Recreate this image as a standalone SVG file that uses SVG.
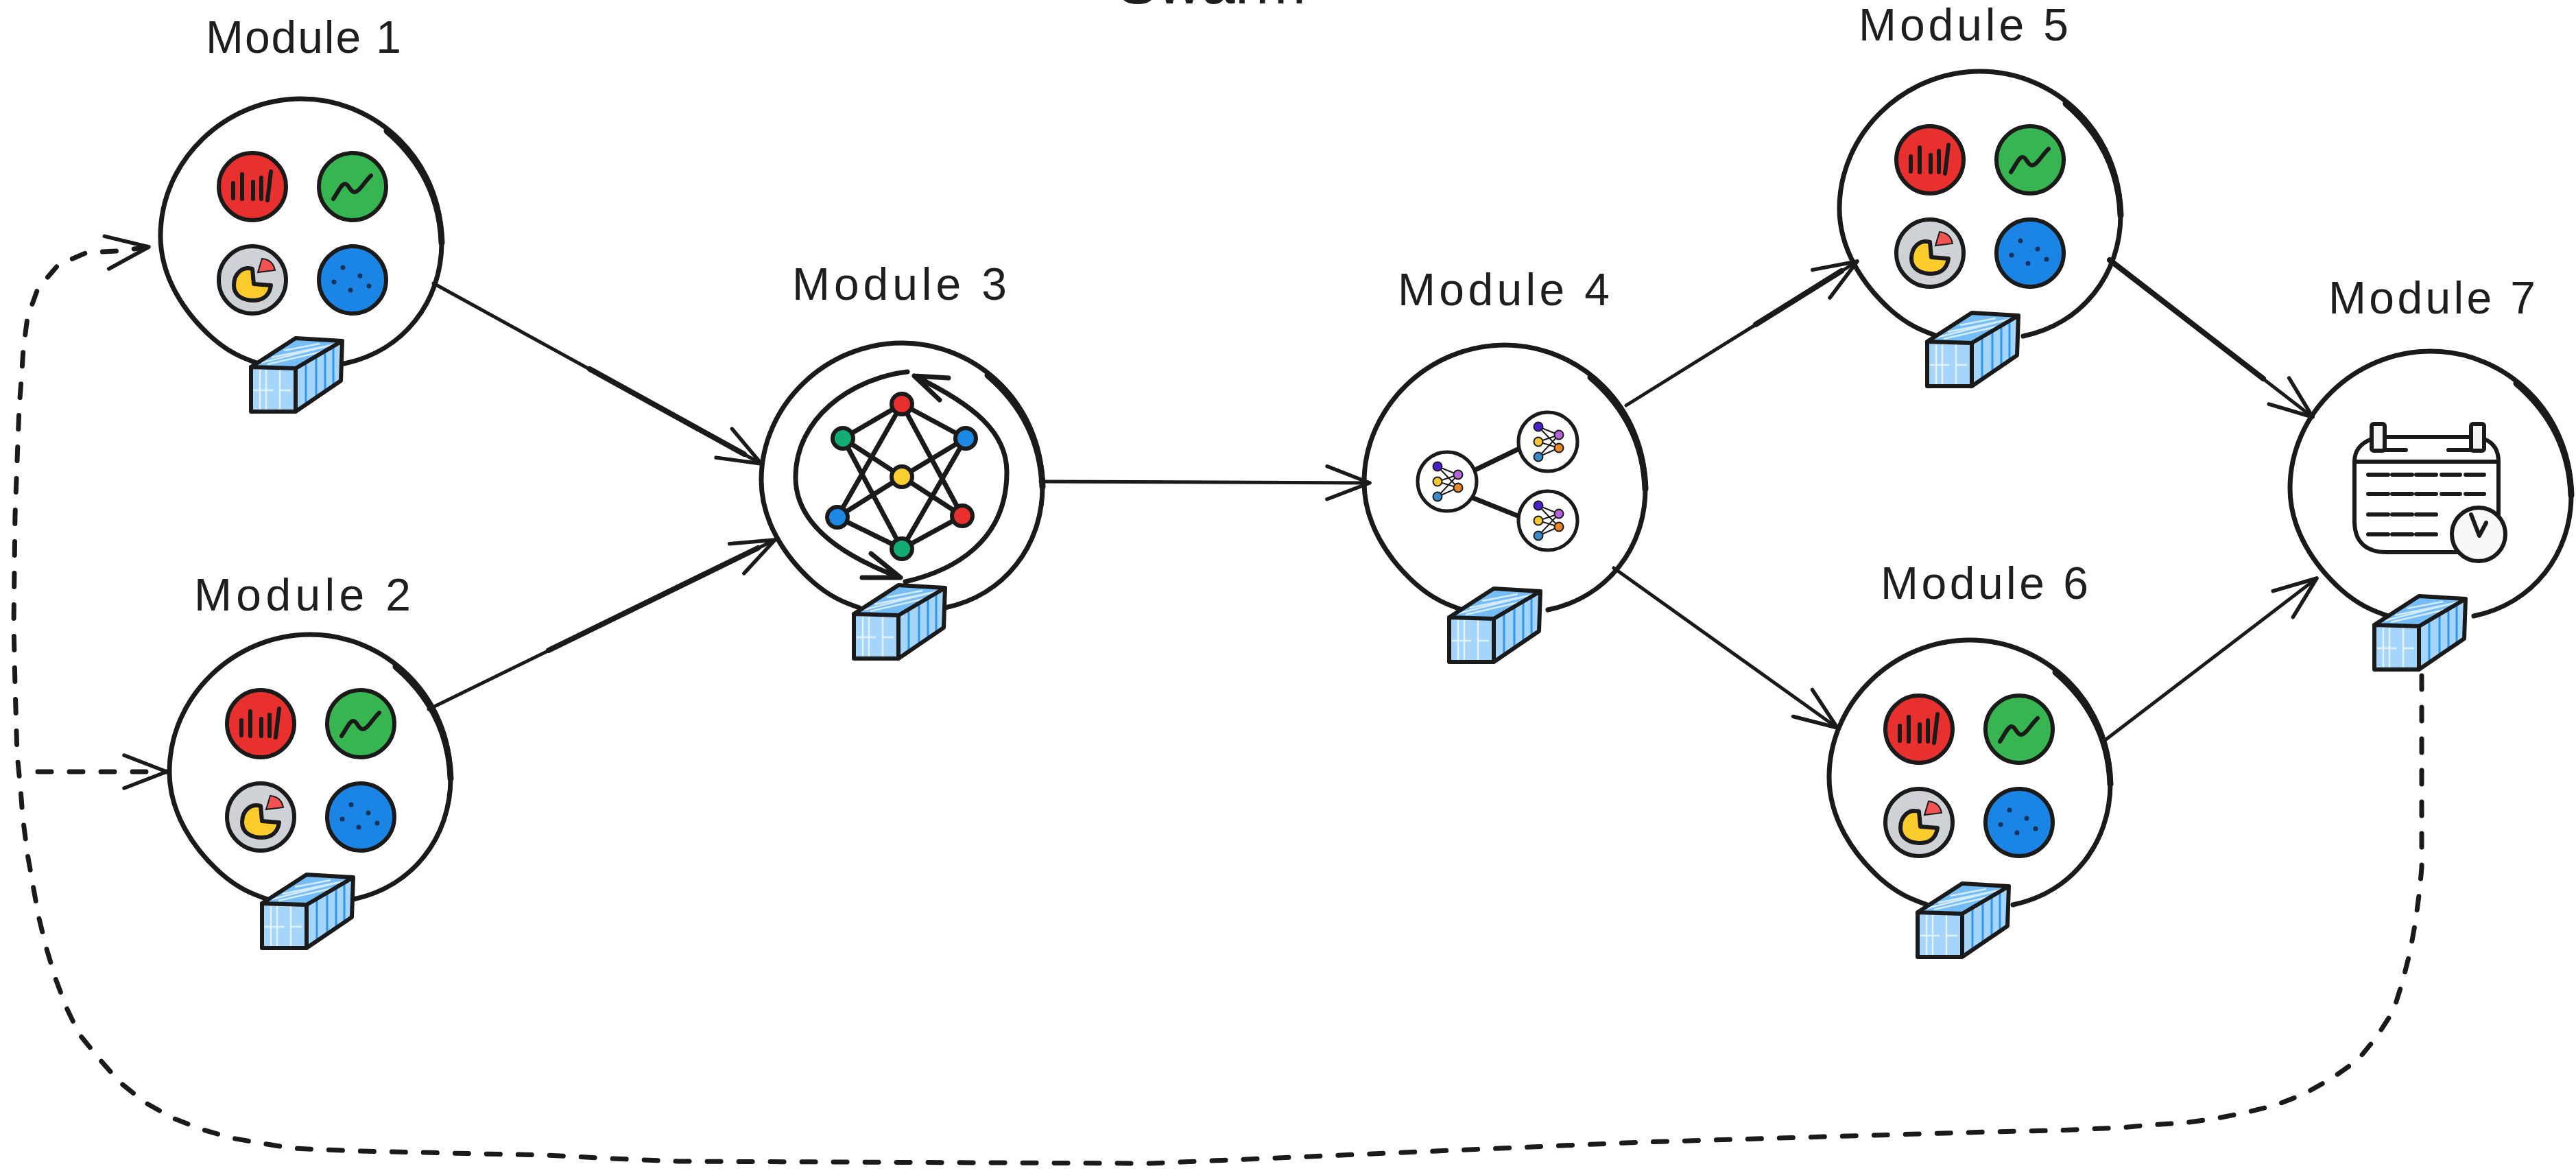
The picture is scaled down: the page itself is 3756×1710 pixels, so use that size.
<svg xmlns="http://www.w3.org/2000/svg" width="3756" height="1710" viewBox="0 0 3756 1710">
<style>
.lbl{font-family:"Liberation Sans",Arial,sans-serif;font-size:66px;fill:#1e1e1e}
.ttl{font-family:"Liberation Sans",Arial,sans-serif;font-size:88px;fill:#1e1e1e}
.ink{fill:none;stroke:#1a1a1a;stroke-linecap:round;stroke-linejoin:round}
.ring{stroke-width:7}
.con{stroke-width:5}
.bold{stroke-width:8}
.dash{stroke-width:7;stroke-dasharray:20 26}
.dot{stroke:#1a1a1a;stroke-width:6}
.sub{stroke:#1a1a1a;stroke-width:2}
.e{stroke-width:7}
.thin{stroke-width:2;stroke:#1a1a1a}
</style>
<defs>
<marker id="arr" markerUnits="userSpaceOnUse" markerWidth="80" markerHeight="80" refX="0" refY="0" orient="auto" overflow="visible">
<path d="M-62,-24 L0,0 L-62,24" fill="none" stroke="#1a1a1a" stroke-width="5.5" stroke-linecap="round" stroke-linejoin="round"/>
</marker>
<g id="ring">
<path class="ink ring" d="M63,186 C150,168 205,95 205,10 C205,-110 110,-200 0,-200 C-110,-200 -205,-110 -205,0 C-205,60 -170,112 -130,148 C-105,170 -85,178 -62,186"/>
<path class="ink" stroke-width="9" d="M125,-153 C175,-110 203,-55 205,10"/>
</g>
<g id="box">
<path d="M0,42 L65,44 L65,107 L0,107 Z" fill="#a5d5fb"/>
<path d="M13,46 V105 M22,46 V105 M42,46 V105 M4,76 H32 M42,76 H58" stroke="#e4f2fe" stroke-width="2.5" fill="none"/>
<path d="M0,42 L65,0 L133,4 L65,44 Z" fill="#74bdf7"/>
<path d="M14,36 L125,8 M30,28 L118,10 M48,18 L100,8 M24,38 L128,14" stroke="#d6ecfd" stroke-width="2.5" fill="none"/>
<path d="M65,44 L133,4 L131,62 L65,107 Z" fill="#a5d5fb"/>
<path d="M80,38 V96 M95,28 V86 M108,20 V78 M120,13 V70" stroke="#2f96ee" stroke-width="3" fill="none"/>
<path class="ink" stroke-width="6" d="M0,42 L65,44 L65,107 L0,107 Z M0,42 L65,0 L133,4 L65,44 M133,4 L131,62 L65,107"/>
</g>
<g id="icons">
<circle r="49" fill="#e8312f" class="dot"/>
<path class="ink" stroke-width="6" d="M-28,-5 V17 M-15,-18 V18 M1,-7 V18 M13,-13 V18 M27,-22 L22,20"/>
<g transform="translate(146,0)">
<circle r="49" fill="#37b550" class="dot"/>
<path class="ink" stroke-width="6" d="M-28,18 C-20,6 -16,-4 -11,-4 C-5,-4 -4,8 3,8 C10,8 18,-8 27,-16"/>
</g>
<g transform="translate(0,136)">
<circle r="49" fill="#ced1d6" class="dot"/>
<path d="M0,-16 C-14,-20 -27,-10 -27,8 C-27,24 -12,30 2,30 C16,30 25,22 27,8 L2,6 Z" fill="#fccc2c" stroke="#1a1a1a" stroke-width="6" stroke-linejoin="round"/>
<path d="M8,-11 L14,-31 C24,-30 31,-24 33,-14 Z" fill="#f25252" stroke="#1a1a1a" stroke-width="2"/>
</g>
<g transform="translate(146,136)">
<circle r="49" fill="#1b85e5" class="dot"/>
<g fill="#15325a"><circle cx="-14" cy="-18" r="3.5"/><circle cx="11" cy="-6" r="3.5"/><circle cx="-27" cy="3" r="3.5"/><circle cx="-3" cy="15" r="3.5"/><circle cx="24" cy="9" r="3.5"/></g>
</g>
</g>
<g id="minet">
<circle r="43" fill="#fff" stroke="#1a1a1a" stroke-width="5"/>
<path class="thin" fill="none" d="M-14,-22 L16,-10 M-14,-22 L16,9 M-14,0 L16,-10 M-14,0 L16,9 M-14,22 L16,-10 M-14,22 L16,9"/>
<circle cx="-14" cy="-22" r="6.5" fill="#4a1fcf" class="sub"/>
<circle cx="16" cy="-10" r="6.5" fill="#b565d8" class="sub"/>
<circle cx="-14" cy="0" r="6.5" fill="#f8c630" class="sub"/>
<circle cx="16" cy="9" r="6.5" fill="#e8862a" class="sub"/>
<circle cx="-14" cy="22" r="6.5" fill="#3a8cc8" class="sub"/>
</g>
</defs>
<rect width="3756" height="1710" fill="#fff"/>
<text class="ttl" x="1629" y="5" textLength="275">Swarm</text>
<g id="connectors">
<path class="ink con" marker-end="url(#arr)" d="M632,413 L1110,676"/>
<path class="ink bold" d="M860,538 L1085,662"/>
<path class="ink con" marker-end="url(#arr)" d="M625,1034 L1130,787"/>
<path class="ink bold" d="M800,948 L1105,799"/>
<path class="ink con" marker-end="url(#arr)" d="M1517,702 L1997,704"/>
<path class="ink con" marker-end="url(#arr)" d="M2371,591 L2708,381"/>
<path class="ink bold" d="M2560,473 L2685,395"/>
<path class="ink con" marker-end="url(#arr)" d="M2353,828 L2679,1061"/>
<path class="ink con" marker-end="url(#arr)" d="M3076,379 L3372,608"/>
<path class="ink bold" d="M3076,379 L3300,552"/>
<path class="ink con" marker-end="url(#arr)" d="M3068,1080 L3378,843"/>
<path class="ink dash" marker-end="url(#arr)" d="M3531,985 L3531,1200 L3531,1265 L3528,1298 L3522,1343 L3514,1388 L3503,1431 L3490,1473 L3465,1512 L3438,1545 L3400,1572 L3359,1595 L3318,1611 L3274,1622 L3228,1631 L3184,1637 L3135,1640 L3091,1644 L2998,1648 L2900,1650 L2395,1665 L1677,1696 L989,1693 L893,1689 L797,1684 L702,1682 L612,1680 L520,1678 L427,1674 L383,1667 L338,1659 L293,1646 L252,1630 L211,1607 L175,1578 L145,1544 L115,1507 L96,1467 L80,1424 L67,1380 L56,1335 L48,1290 L40,1245 L33,1190 L30,1150 L25,1100 L22,1000 L20,910 L22,750 L28,593 L31,555 L34,509 L40,463 L55,421 L85,386 L127,368 L172,366 L217,360"/>
<path class="ink dash" marker-end="url(#arr)" d="M55,1125 L243,1125"/>
</g>
<g id="module-1">
<text class="lbl" x="300" y="77" textLength="285">Module 1</text>
<use href="#ring" x="439" y="344"/><use href="#icons" x="368" y="272"/><use href="#box" x="366" y="493"/>
</g>
<g id="module-2">
<text class="lbl" x="283" y="890" textLength="316">Module 2</text>
<use href="#ring" x="452" y="1125"/><use href="#icons" x="380" y="1055"/><use href="#box" x="382" y="1275"/>
</g>
<g id="module-3">
<text class="lbl" x="1155" y="437" textLength="313">Module 3</text>
<use href="#ring" x="1315" y="700"/>
<path class="ink e" stroke-width="6" d="M1323,542 C1240,552 1160,610 1160,696 C1160,770 1240,815 1313,842 M1270,807 L1313,842 L1257,842 M1320,848 C1390,832 1468,790 1468,688 C1468,630 1420,590 1333,548 M1383,551 L1333,548 L1370,583"/>
<path class="ink e" d="M1315,589 L1229,639 M1315,589 L1408,639 M1315,589 L1221,754 M1315,589 L1403,752 M1229,639 L1315,695 M1408,639 L1315,695 M1221,754 L1315,695 M1403,752 L1315,695 M1229,639 L1315,800 M1408,639 L1315,800 M1221,754 L1315,800 M1403,752 L1315,800"/>
<circle cx="1315" cy="589" r="15" fill="#e8312f" class="dot"/>
<circle cx="1229" cy="639" r="15" fill="#12ad74" class="dot"/>
<circle cx="1408" cy="639" r="15" fill="#1e88e5" class="dot"/>
<circle cx="1315" cy="695" r="15" fill="#fcd030" class="dot"/>
<circle cx="1221" cy="754" r="15" fill="#1e88e5" class="dot"/>
<circle cx="1403" cy="752" r="15" fill="#e8312f" class="dot"/>
<circle cx="1315" cy="800" r="15" fill="#12ad74" class="dot"/>
<use href="#box" x="1245" y="853"/>
</g>
<g id="module-4">
<text class="lbl" x="2038" y="445" textLength="309">Module 4</text>
<use href="#ring" x="2194" y="703"/>
<path class="ink e" d="M2153,684 L2213,655 M2148,726 L2213,752"/>
<use href="#minet" x="2110" y="702"/><use href="#minet" x="2257" y="644"/><use href="#minet" x="2257" y="759"/>
<use href="#box" x="2113" y="858"/>
</g>
<g id="module-5">
<text class="lbl" x="2710" y="59" textLength="306">Module 5</text>
<use href="#ring" x="2887" y="304"/><use href="#icons" x="2814" y="233"/><use href="#box" x="2810" y="456"/>
</g>
<g id="module-6">
<text class="lbl" x="2742" y="873" textLength="303">Module 6</text>
<use href="#ring" x="2872" y="1133"/><use href="#icons" x="2798" y="1063"/><use href="#box" x="2796" y="1288"/>
</g>
<g id="module-7">
<text class="lbl" x="3395" y="457" textLength="302">Module 7</text>
<use href="#ring" x="3544" y="712"/>
<path class="ink" stroke-width="6" d="M3458,640 C3445,645 3433,655 3433,673 V760 C3433,790 3450,805 3480,805 H3600 C3630,805 3643,790 3643,760 V673 C3643,655 3635,645 3622,640 M3477,637 H3603 M3433,673 H3643"/>
<rect x="3458" y="618" width="19" height="39" rx="3" fill="#f4f4f4" stroke="#1a1a1a" stroke-width="6"/>
<rect x="3603" y="618" width="19" height="39" rx="3" fill="#f4f4f4" stroke="#1a1a1a" stroke-width="6"/>
<path class="ink" stroke-width="6" d="M3477,656 H3508 M3570,656 H3603 M3453,692 H3482 M3488,692 H3517 M3523,692 H3552 M3560,692 H3587 M3595,692 H3622 M3453,720 H3482 M3488,720 H3517 M3523,720 H3552 M3560,720 H3587 M3595,720 H3622 M3453,750 H3482 M3488,750 H3517 M3523,750 H3552 M3453,779 H3482 M3488,779 H3517 M3523,779 H3552"/>
<circle cx="3614" cy="779" r="39" fill="#f8f8f8" stroke="#1a1a1a" stroke-width="6"/>
<path class="ink" stroke-width="6" d="M3603,750 L3615,781 L3625,762"/>
<use href="#box" x="3462" y="869"/>
</g>
</svg>
